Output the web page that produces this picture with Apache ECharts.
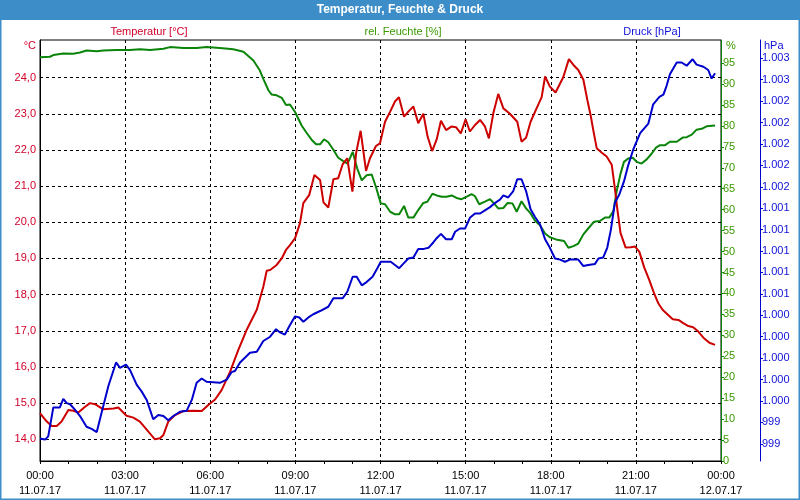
<!DOCTYPE html>
<html>
<head>
<meta charset="utf-8">
<script src="https://cdn.jsdelivr.net/npm/echarts@6/dist/echarts.min.js"></script>
<style>html,body{margin:0;padding:0;background:#fff}#c{width:800px;height:500px}</style>
</head>
<body>
<div id="c"></div>
<script>
// Hours since 00:00 on 11.07.17
const tempTimes = [0.00,0.24,0.41,0.59,0.76,1.00,1.18,1.35,1.59,1.76,1.94,2.23,2.59,2.76,3.05,3.29,3.52,3.82,4.05,4.23,4.35,4.52,4.76,5.05,5.40,5.70,5.93,6.17,6.40,6.70,6.99,7.28,7.64,7.87,7.99,8.11,8.34,8.52,8.67,8.81,8.99,9.16,9.28,9.49,9.67,9.87,9.99,10.16,10.34,10.51,10.67,10.83,10.90,11.01,11.14,11.30,11.49,11.63,11.84,11.98,12.16,12.34,12.51,12.65,12.83,12.98,13.16,13.33,13.51,13.66,13.82,13.98,14.13,14.31,14.51,14.66,14.83,15.00,15.15,15.33,15.51,15.68,15.82,15.98,16.15,16.33,16.56,16.82,16.97,17.13,17.29,17.50,17.68,17.80,17.97,18.17,18.44,18.64,18.80,18.97,19.15,19.29,19.41,19.52,19.62,19.79,19.97,20.15,20.26,20.35,20.46,20.64,20.82,20.97,21.12,21.29,21.47,21.64,21.79,21.94,22.11,22.30,22.50,22.67,22.85,23.02,23.20,23.38,23.59,23.79];
const tempValues = [14.72,14.49,14.37,14.37,14.49,14.81,14.79,14.74,14.90,15.00,14.97,14.83,14.85,14.88,14.65,14.60,14.49,14.21,14.00,14.03,14.12,14.49,14.67,14.78,14.79,14.78,14.95,15.10,15.36,15.87,16.47,17.02,17.58,18.22,18.66,18.68,18.82,19.00,19.24,19.37,19.56,19.97,20.53,20.76,21.31,21.17,20.55,20.41,21.19,21.22,21.61,21.77,21.40,20.85,21.91,22.53,21.42,21.77,22.11,22.18,22.78,23.06,23.34,23.46,22.92,23.06,23.20,22.74,23.00,22.37,21.97,22.29,22.81,22.55,22.65,22.63,22.46,22.85,22.51,22.69,22.83,22.65,22.32,23.03,23.55,23.15,23.00,22.78,22.23,22.34,22.78,23.15,23.46,24.03,23.75,23.59,24.01,24.51,24.35,24.21,23.94,23.38,22.94,22.46,22.05,21.93,21.82,21.59,20.94,20.34,19.70,19.30,19.31,19.33,19.19,18.76,18.41,18.04,17.76,17.58,17.46,17.32,17.30,17.21,17.13,17.10,16.98,16.81,16.67,16.61];

const humTimes = [0.00,0.35,0.47,0.82,1.17,1.41,1.64,2.00,2.23,2.70,3.17,3.52,3.88,4.35,4.58,5.05,5.52,5.87,6.34,6.81,7.17,7.52,7.75,7.87,8.05,8.16,8.34,8.52,8.67,8.81,8.99,9.22,9.40,9.57,9.73,9.87,10.01,10.16,10.34,10.51,10.69,10.84,11.02,11.18,11.34,11.51,11.69,11.84,12.01,12.16,12.34,12.51,12.66,12.83,12.98,13.16,13.33,13.51,13.65,13.83,13.98,14.16,14.33,14.51,14.68,14.86,15.04,15.21,15.33,15.48,15.68,15.86,16.00,16.15,16.33,16.48,16.65,16.80,16.97,17.13,17.29,17.44,17.62,17.80,17.97,18.18,18.47,18.62,18.80,18.97,19.15,19.32,19.52,19.73,19.91,20.06,20.21,20.32,20.46,20.58,20.73,20.89,21.03,21.20,21.38,21.56,21.71,21.85,22.03,22.20,22.44,22.65,22.79,22.97,23.14,23.32,23.49,23.79];
const humValues = [96.4,96.5,96.9,97.3,97.2,97.5,98.0,97.8,98.0,98.1,98.1,98.3,98.1,98.4,98.8,98.6,98.6,98.8,98.6,98.3,97.7,95.6,93.2,91.2,88.5,87.5,87.3,86.7,85.0,85.1,83.3,80.1,78.3,76.7,75.6,75.6,76.8,76.1,74.3,72.4,71.6,71.0,73.8,69.8,67.0,68.2,68.4,65.4,61.5,61.3,59.5,58.9,58.9,60.9,58.1,58.1,59.9,61.6,61.9,63.8,63.4,63.1,63.1,63.4,62.8,62.5,63.1,63.7,63.2,61.3,61.9,62.5,61.5,60.3,60.4,61.6,61.5,59.5,62.0,60.3,59.1,57.4,56.3,54.3,53.4,52.9,52.5,50.9,51.3,51.9,54.1,55.5,57.1,57.3,58.1,58.1,59.7,64.3,68.6,71.4,72.2,72.4,71.4,71.0,72.0,73.4,74.8,75.4,75.4,76.2,76.2,77.2,77.3,77.9,79.1,79.3,79.9,80.1];

const presTimes = [0.00,0.18,0.29,0.47,0.70,0.82,0.94,1.06,1.23,1.41,1.64,1.82,2.00,2.17,2.41,2.68,2.82,3.03,3.17,3.41,3.58,3.76,3.99,4.17,4.35,4.52,4.70,4.93,5.17,5.35,5.52,5.70,5.87,6.34,6.58,6.75,6.87,7.05,7.40,7.64,7.87,8.11,8.32,8.46,8.63,8.81,8.99,9.14,9.28,9.46,9.63,9.87,10.16,10.34,10.67,10.83,11.02,11.16,11.34,11.51,11.72,11.87,12.01,12.36,12.51,12.66,12.80,12.98,13.16,13.33,13.53,13.69,13.86,13.98,14.13,14.31,14.51,14.63,14.80,14.98,15.15,15.33,15.51,15.68,15.86,16.04,16.21,16.33,16.50,16.68,16.82,16.97,17.13,17.29,17.44,17.62,17.80,17.97,18.15,18.33,18.50,18.68,18.97,19.15,19.32,19.56,19.68,19.85,19.99,20.12,20.26,20.42,20.58,20.73,20.91,21.15,21.44,21.61,21.83,21.97,22.08,22.20,22.44,22.61,22.79,23.00,23.14,23.38,23.55,23.67,23.79];
const presValues = [999.25,999.24,999.27,999.54,999.54,999.62,999.58,999.57,999.52,999.46,999.36,999.34,999.31,999.49,999.74,999.96,999.91,999.94,999.89,999.75,999.69,999.61,999.43,999.47,999.46,999.42,999.46,999.50,999.51,999.61,999.77,999.81,999.78,999.77,999.80,999.87,999.88,999.96,1000.05,1000.06,1000.16,1000.20,1000.27,1000.24,1000.22,1000.31,1000.39,1000.38,1000.34,1000.38,1000.41,1000.44,1000.48,1000.56,1000.56,1000.62,1000.76,1000.76,1000.68,1000.71,1000.76,1000.83,1000.90,1000.90,1000.87,1000.84,1000.88,1000.93,1000.94,1001.02,1001.02,1001.03,1001.08,1001.12,1001.16,1001.11,1001.11,1001.18,1001.21,1001.21,1001.31,1001.35,1001.35,1001.38,1001.41,1001.45,1001.48,1001.52,1001.50,1001.56,1001.67,1001.67,1001.56,1001.39,1001.32,1001.25,1001.11,1001.03,1000.93,1000.92,1000.90,1000.92,1000.92,1000.86,1000.87,1000.88,1000.93,1000.94,1001.03,1001.20,1001.45,1001.53,1001.65,1001.80,1001.95,1002.10,1002.19,1002.37,1002.44,1002.46,1002.54,1002.65,1002.76,1002.76,1002.73,1002.79,1002.74,1002.72,1002.69,1002.61,1002.66];

const tempTicks = [14,15,16,17,18,19,20,21,22,23,24];
const humTicks = [0,5,10,15,20,25,30,35,40,45,50,55,60,65,70,75,80,85,90,95];
const presTicks = [999.2,999.4,999.6,999.8,1000.0,1000.2,1000.4,1000.6,1000.8,1001.0,1001.2,1001.4,1001.6,1001.8,1002.0,1002.2,1002.4,1002.6,1002.8];
const timeTickLabels = ['00:00\n11.07.17','03:00\n11.07.17','06:00\n11.07.17','09:00\n11.07.17','12:00\n11.07.17','15:00\n11.07.17','18:00\n11.07.17','21:00\n11.07.17','00:00\n12.07.17'];

const zip = (a, b) => a.map((t, i) => [t, b[i]]);
const FONT = 'Liberation Sans, Arial, sans-serif';
const RED = '#cc0000', GREEN = '#0a850a', BLUE = '#0000cc';
const RED_T = '#d0002a', GREEN_T = '#3a9a00', BLUE_T = '#1010d8';

const chart = echarts.init(document.getElementById('c'), null, {renderer: 'canvas'});
chart.setOption({
  animation: false,
  backgroundColor: '#ffffff',
  textStyle: {fontFamily: FONT},
  grid: {left: 40, right: 79, top: 40, bottom: 39, show: true, borderColor: '#000', borderWidth: 1, backgroundColor: 'transparent'},
  graphic: [
    {type: 'rect', shape: {x: 0, y: 0, width: 800, height: 20}, style: {fill: '#3d8ec8'}, z: 10},
    {type: 'rect', shape: {x: 0.5, y: 0.5, width: 799, height: 499}, style: {fill: 'none', stroke: '#3d8ec8', lineWidth: 2}, z: 10},
    {type: 'text', x: 400, y: 10, style: {text: 'Temperatur, Feuchte & Druck', fill: '#fff', font: 'bold 12px ' + FONT, align: 'center', verticalAlign: 'middle'}, z: 11},
    {type: 'text', x: 149, y: 32, style: {text: 'Temperatur [°C]', fill: RED_T, font: '11px ' + FONT, align: 'center', verticalAlign: 'middle'}},
    {type: 'text', x: 403, y: 32, style: {text: 'rel. Feuchte [%]', fill: GREEN_T, font: '11px ' + FONT, align: 'center', verticalAlign: 'middle'}},
    {type: 'text', x: 652, y: 32, style: {text: 'Druck [hPa]', fill: BLUE_T, font: '11px ' + FONT, align: 'center', verticalAlign: 'middle'}},
    {type: 'text', x: 36, y: 46, style: {text: '°C', fill: RED_T, font: '11px ' + FONT, align: 'right', verticalAlign: 'middle'}},
    {type: 'text', x: 726, y: 46, style: {text: '%', fill: GREEN_T, font: '11px ' + FONT, align: 'left', verticalAlign: 'middle'}},
    {type: 'text', x: 764, y: 46, style: {text: 'hPa', fill: BLUE_T, font: '11px ' + FONT, align: 'left', verticalAlign: 'middle'}}
  ],
  xAxis: {
    type: 'value', min: 0, max: 24, interval: 3,
    axisLine: {lineStyle: {color: '#000', width: 1}},
    axisTick: {show: true, length: 3, lineStyle: {color: '#000'}},
    minorTick: {show: true, splitNumber: 3, length: 3, lineStyle: {color: '#000'}},
    splitLine: {show: true, lineStyle: {color: '#000', type: [3, 3], width: 1}},
    axisLabel: {
      color: '#000', fontSize: 11, fontFamily: FONT, lineHeight: 15, margin: 7,
      formatter: v => timeTickLabels[Math.round(v / 3)] || ''
    }
  },
  yAxis: [
    {
      type: 'value', position: 'left', min: 13.4, max: 25.04,
      axisLine: {show: true, lineStyle: {color: '#000'}},
      axisTick: {show: false, customValues: tempTicks},
      splitLine: {show: true, lineStyle: {color: '#000', type: [3, 3], width: 1}},
      axisLabel: {customValues: tempTicks, color: RED_T, fontSize: 11, fontFamily: FONT, margin: 4,
        formatter: v => v.toFixed(1).replace('.', ',')}
    },
    {
      type: 'value', position: 'right', offset: 0, min: 0, max: 100.5,
      axisLine: {show: true, lineStyle: {color: GREEN, width: 1}},
      axisTick: {show: true, length: 3, customValues: humTicks, lineStyle: {color: GREEN}},
      splitLine: {show: false},
      axisLabel: {customValues: humTicks, color: GREEN_T, fontSize: 11, fontFamily: FONT, margin: 2}
    },
    {
      type: 'value', position: 'right', offset: 39, min: 999.04, max: 1002.97,
      axisLine: {show: true, lineStyle: {color: BLUE, width: 1}},
      axisTick: {show: true, length: 3, customValues: presTicks, lineStyle: {color: BLUE}},
      splitLine: {show: false},
      axisLabel: {customValues: presTicks, color: BLUE_T, fontSize: 11, fontFamily: FONT, margin: 2,
        formatter: v => { const r = Math.round(v); return r >= 1000 ? '1.' + String(r - 1000).padStart(3, '0') : String(r); }}
    }
  ],
  series: [
    {name: 'rel. Feuchte [%]', type: 'line', yAxisIndex: 1, data: zip(humTimes, humValues), showSymbol: false, lineStyle: {color: GREEN, width: 2}, itemStyle: {color: GREEN}},
    {name: 'Temperatur [°C]', type: 'line', yAxisIndex: 0, data: zip(tempTimes, tempValues), showSymbol: false, lineStyle: {color: RED, width: 2}, itemStyle: {color: RED}},
    {name: 'Druck [hPa]', type: 'line', yAxisIndex: 2, data: zip(presTimes, presValues), showSymbol: false, lineStyle: {color: BLUE, width: 2}, itemStyle: {color: BLUE}}
  ]
});
</script>
</body>
</html>
